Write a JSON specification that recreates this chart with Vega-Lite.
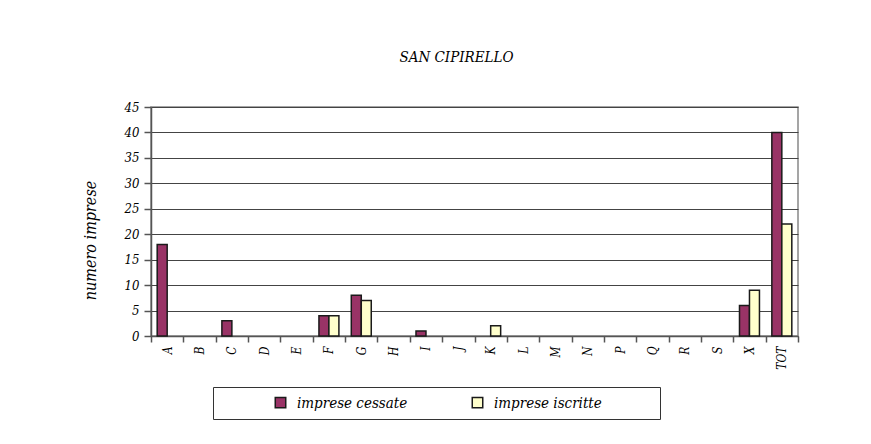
{
  "$schema": "https://vega.github.io/schema/vega-lite/v6.json",
  "width": 647,
  "height": 229,
  "autosize": {"type": "none"},
  "padding": {"left": 151, "top": 107, "right": 73, "bottom": 108},
  "background": "white",
  "title": {
    "text": "SAN CIPIRELLO",
    "font": "DejaVu Serif Condensed",
    "fontStyle": "italic",
    "fontWeight": "normal",
    "fontSize": 15,
    "color": "#000000",
    "anchor": "middle",
    "dx": -18,
    "offset": 36
  },
  "data": {
    "values": [
      {"settore": "A", "serie": "imprese cessate", "valore": 18},
      {"settore": "A", "serie": "imprese iscritte", "valore": 0},
      {"settore": "B", "serie": "imprese cessate", "valore": 0},
      {"settore": "B", "serie": "imprese iscritte", "valore": 0},
      {"settore": "C", "serie": "imprese cessate", "valore": 3},
      {"settore": "C", "serie": "imprese iscritte", "valore": 0},
      {"settore": "D", "serie": "imprese cessate", "valore": 0},
      {"settore": "D", "serie": "imprese iscritte", "valore": 0},
      {"settore": "E", "serie": "imprese cessate", "valore": 0},
      {"settore": "E", "serie": "imprese iscritte", "valore": 0},
      {"settore": "F", "serie": "imprese cessate", "valore": 4},
      {"settore": "F", "serie": "imprese iscritte", "valore": 4},
      {"settore": "G", "serie": "imprese cessate", "valore": 8},
      {"settore": "G", "serie": "imprese iscritte", "valore": 7},
      {"settore": "H", "serie": "imprese cessate", "valore": 0},
      {"settore": "H", "serie": "imprese iscritte", "valore": 0},
      {"settore": "I", "serie": "imprese cessate", "valore": 1},
      {"settore": "I", "serie": "imprese iscritte", "valore": 0},
      {"settore": "J", "serie": "imprese cessate", "valore": 0},
      {"settore": "J", "serie": "imprese iscritte", "valore": 0},
      {"settore": "K", "serie": "imprese cessate", "valore": 0},
      {"settore": "K", "serie": "imprese iscritte", "valore": 2},
      {"settore": "L", "serie": "imprese cessate", "valore": 0},
      {"settore": "L", "serie": "imprese iscritte", "valore": 0},
      {"settore": "M", "serie": "imprese cessate", "valore": 0},
      {"settore": "M", "serie": "imprese iscritte", "valore": 0},
      {"settore": "N", "serie": "imprese cessate", "valore": 0},
      {"settore": "N", "serie": "imprese iscritte", "valore": 0},
      {"settore": "P", "serie": "imprese cessate", "valore": 0},
      {"settore": "P", "serie": "imprese iscritte", "valore": 0},
      {"settore": "Q", "serie": "imprese cessate", "valore": 0},
      {"settore": "Q", "serie": "imprese iscritte", "valore": 0},
      {"settore": "R", "serie": "imprese cessate", "valore": 0},
      {"settore": "R", "serie": "imprese iscritte", "valore": 0},
      {"settore": "S", "serie": "imprese cessate", "valore": 0},
      {"settore": "S", "serie": "imprese iscritte", "valore": 0},
      {"settore": "X", "serie": "imprese cessate", "valore": 6},
      {"settore": "X", "serie": "imprese iscritte", "valore": 9},
      {"settore": "TOT", "serie": "imprese cessate", "valore": 40},
      {"settore": "TOT", "serie": "imprese iscritte", "valore": 22}
    ]
  },
  "transform": [{"filter": "datum.valore > 0"}],
  "mark": {"type": "bar", "stroke": "#1a1a1a", "strokeWidth": 1.5},
  "encoding": {
    "x": {
      "field": "settore",
      "type": "nominal",
      "sort": ["A", "B", "C", "D", "E", "F", "G", "H", "I", "J", "K", "L", "M", "N", "P", "Q", "R", "S", "X", "TOT"],
      "scale": {"domain": ["A", "B", "C", "D", "E", "F", "G", "H", "I", "J", "K", "L", "M", "N", "P", "Q", "R", "S", "X", "TOT"], "paddingInner": 0, "paddingOuter": 0},
      "axis": {
        "title": null,
        "labelAngle": -90,
        "labelFont": "DejaVu Serif Condensed",
        "labelFontStyle": "italic",
        "labelFontSize": 12,
        "labelColor": "#000000",
        "labelPadding": 4,
        "tickBand": "extent",
        "tickSize": 6,
        "tickColor": "#555555",
        "tickWidth": 1.5,
        "domainColor": "#555555",
        "domainWidth": 1.5,
        "grid": false
      }
    },
    "xOffset": {
      "field": "serie",
      "type": "nominal",
      "sort": ["imprese cessate", "imprese iscritte"],
      "scale": {"domain": ["imprese cessate", "imprese iscritte"], "paddingInner": 0, "paddingOuter": 0.62}
    },
    "y": {
      "field": "valore",
      "type": "quantitative",
      "scale": {"domain": [0, 45], "nice": false},
      "axis": {
        "title": "numero imprese",
        "titleFont": "DejaVu Serif Condensed",
        "titleFontStyle": "italic",
        "titleFontWeight": "normal",
        "titleFontSize": 16,
        "titleColor": "#000000",
        "titlePadding": 26,
        "titleY": 133,
        "values": [0, 5, 10, 15, 20, 25, 30, 35, 40, 45],
        "labelFont": "DejaVu Serif Condensed",
        "labelFontStyle": "italic",
        "labelFontSize": 13,
        "labelColor": "#000000",
        "labelPadding": 5,
        "tickSize": 7,
        "tickColor": "#555555",
        "tickWidth": 1.5,
        "domainColor": "#555555",
        "domainWidth": 1.5,
        "grid": true,
        "gridColor": "#444444",
        "gridWidth": 1
      }
    },
    "color": {
      "field": "serie",
      "type": "nominal",
      "scale": {"domain": ["imprese cessate", "imprese iscritte"], "range": ["#993366", "#FFFFCC"]},
      "legend": {
        "title": "\u00a0",
        "titleOrient": "right",
        "titlePadding": 50,
        "orient": "none",
        "legendX": 62,
        "legendY": 280,
        "direction": "horizontal",
        "strokeColor": "#333333",
        "fillColor": "white",
        "padding": 8,
        "symbolType": "square",
        "symbolSize": 110,
        "symbolStrokeColor": "#1a1a1a",
        "symbolStrokeWidth": 1.5,
        "symbolOffset": 52,
        "labelOffset": 9,
        "labelFont": "DejaVu Serif Condensed",
        "labelFontStyle": "italic",
        "labelFontSize": 15,
        "labelColor": "#000000",
        "labelLimit": 400,
        "columnPadding": 10
      }
    }
  },
  "config": {
    "view": {"stroke": "#888888", "strokeWidth": 1.5}
  }
}
